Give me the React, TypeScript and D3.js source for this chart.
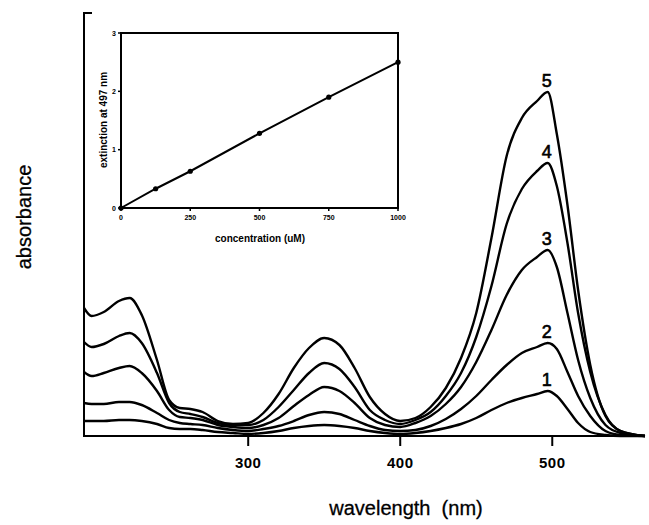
import * as d3 from 'd3'
import { useMemo } from 'react'

// wavelengths (nm) sampled along the spectra
const wavelengths = [
  192, 197, 205, 215, 222, 230, 240, 248, 255, 262, 270, 280, 290, 300, 310, 320,
  330, 340, 350, 360, 370, 380, 390, 400, 410, 420, 430, 440, 450, 460, 470, 480,
  490, 497, 503, 510, 517, 525, 535, 545, 561,
]

// absorbance, curves 1..5
const curve1 = [
  0.15, 0.15, 0.15, 0.16, 0.16, 0.15, 0.12, 0.08, 0.07, 0.07, 0.06, 0.04, 0.03, 0.02, 0.03, 0.05,
  0.08, 0.1, 0.11, 0.1, 0.08, 0.05, 0.03, 0.02, 0.03, 0.05, 0.08, 0.12, 0.18, 0.26, 0.33, 0.38,
  0.42, 0.45, 0.4, 0.27, 0.13, 0.04, 0.01, 0, 0,
]
const curve2 = [
  0.33, 0.32, 0.32, 0.34, 0.34, 0.31, 0.23, 0.16, 0.13, 0.12, 0.11, 0.08, 0.06, 0.05, 0.07, 0.1,
  0.15, 0.21, 0.24, 0.22, 0.16, 0.1, 0.06, 0.05, 0.06, 0.1, 0.17, 0.27, 0.4, 0.56, 0.71, 0.83,
  0.89, 0.93, 0.87, 0.64, 0.4, 0.2, 0.05, 0.01, 0,
]
const curve3 = [
  0.64, 0.6, 0.63, 0.68, 0.7, 0.63, 0.45, 0.26, 0.19, 0.18, 0.16, 0.11, 0.09, 0.08, 0.11, 0.18,
  0.3, 0.41, 0.49, 0.45, 0.33, 0.18, 0.11, 0.09, 0.13, 0.2, 0.32, 0.49, 0.74, 1.06, 1.41, 1.66,
  1.79, 1.86, 1.69, 1.23, 0.76, 0.38, 0.11, 0.03, 0,
]
const curve4 = [
  0.94, 0.89, 0.92, 1.0, 1.03, 0.93, 0.63, 0.33, 0.24, 0.22, 0.19, 0.13, 0.11, 0.11, 0.16, 0.29,
  0.46, 0.63, 0.73, 0.67, 0.49, 0.26, 0.16, 0.12, 0.16, 0.24, 0.4, 0.63, 0.99, 1.5, 2.12, 2.47,
  2.65, 2.73, 2.5, 1.93, 1.23, 0.64, 0.21, 0.05, 0,
]
const curve5 = [
  1.28, 1.2, 1.24, 1.35, 1.38, 1.21, 0.76, 0.36, 0.28, 0.27, 0.24, 0.15, 0.12, 0.13, 0.23, 0.42,
  0.68, 0.88, 0.98, 0.91, 0.68, 0.39, 0.22, 0.15, 0.18, 0.29, 0.48, 0.78, 1.23, 1.98, 2.8, 3.18,
  3.35, 3.44, 3.02, 2.31, 1.46, 0.71, 0.2, 0.05, 0,
]
const curves = [curve1, curve2, curve3, curve4, curve5]
const curveLabels = ['1', '2', '3', '4', '5']
const labelWavelength = 497
const xTicks = [300, 400, 500]

// inset: extinction at 497 nm vs concentration
const concentrations = [0, 125, 250, 500, 750, 1000]
const extinctions = [0, 0.33, 0.63, 1.28, 1.9, 2.5]
const insetXTicks = [0, 250, 500, 750, 1000]
const insetYTicks = [0, 1, 2, 3]

const font = 'Liberation Sans, Arial, Helvetica, sans-serif'

const properties = () => {
  const xScale = d3.scaleLinear().domain([192, 561]).range([84, 645])
  const yScale = d3.scaleLinear().domain([0, 4.22]).range([436, 14])

  const lineGenerator = d3
    .line<number>()
    .x((_, i) => xScale(wavelengths[i]))
    .y((d) => yScale(d))
    .curve(d3.curveMonotoneX)

  const insetX = d3.scaleLinear().domain([0, 1000]).range([121, 398])
  const insetY = d3.scaleLinear().domain([0, 3]).range([208, 33])
  const insetLine = d3
    .line<number>()
    .x((_, i) => insetX(concentrations[i]))
    .y((d) => insetY(d))

  return { xScale, yScale, lineGenerator, insetX, insetY, insetLine }
}

const App = () => {
  const { xScale, yScale, lineGenerator, insetX, insetY, insetLine } = useMemo(
    () => properties(),
    []
  )
  const labelIndex = wavelengths.indexOf(labelWavelength)

  return (
    <svg
      width={649}
      height={525}
      style={{ position: 'absolute', left: 0, top: 0, background: 'white', fontFamily: font }}
    >
      {/* main axes */}
      <path
        d={`M${xScale(192) + 8},${yScale(4.22) - 1}H${xScale(192)}V${yScale(0)}H${xScale(561)}`}
        fill="none"
        stroke="black"
        strokeWidth={2}
      />
      {xTicks.map((t) => (
        <g key={t} transform={`translate(${xScale(t)},${yScale(0)})`}>
          <line y1={0} y2={10} stroke="black" strokeWidth={2} />
          <text
            y={32}
            textAnchor="middle"
            style={{ fontSize: '15px', fontWeight: 'bold', letterSpacing: '0.5px' }}
          >
            {t}
          </text>
        </g>
      ))}

      {curves.map((c, i) => (
        <path key={i} d={lineGenerator(c) ?? ''} fill="none" stroke="black" strokeWidth={2.4} />
      ))}
      {curves.map((c, i) => (
        <text
          key={i}
          x={xScale(labelWavelength) - 1}
          y={yScale(c[labelIndex]) - 5}
          textAnchor="middle"
          style={{ fontSize: '18px' }}
          stroke="black"
          strokeWidth={0.6}
        >
          {curveLabels[i]}
        </text>
      ))}

      <text x={406} y={515} textAnchor="middle" style={{ fontSize: '20px' }} stroke="black" strokeWidth={0.3}>
        wavelength&#160;&#160;(nm)
      </text>
      <text
        transform="translate(31,217) rotate(-90)"
        textAnchor="middle"
        style={{ fontSize: '20px' }}
        stroke="black"
        strokeWidth={0.3}
      >
        absorbance
      </text>

      {/* inset */}
      <rect
        x={insetX(0)}
        y={insetY(3)}
        width={insetX(1000) - insetX(0)}
        height={insetY(0) - insetY(3)}
        fill="white"
        stroke="black"
        strokeWidth={2}
      />
      {insetXTicks.map((t) => (
        <g key={t} transform={`translate(${insetX(t)},${insetY(0)})`}>
          <line y1={0} y2={3} stroke="black" strokeWidth={1.5} />
          <text y={12} textAnchor="middle" style={{ fontSize: '7px', fontWeight: 'bold' }}>
            {t}
          </text>
        </g>
      ))}
      {insetYTicks.map((t) => (
        <g key={t} transform={`translate(${insetX(0)},${insetY(t)})`}>
          <line x1={0} x2={-3} stroke="black" strokeWidth={1.5} />
          <text x={-5} y={2.5} textAnchor="end" style={{ fontSize: '7px', fontWeight: 'bold' }}>
            {t}
          </text>
        </g>
      ))}
      <path d={insetLine(extinctions) ?? ''} fill="none" stroke="black" strokeWidth={2} />
      {extinctions.map((e, i) => (
        <circle key={i} cx={insetX(concentrations[i])} cy={insetY(e)} r={2.6} fill="black" />
      ))}
      <text x={260} y={242} textAnchor="middle" style={{ fontSize: '10px', fontWeight: 'bold' }}>
        concentration (uM)
      </text>
      <text
        transform="translate(107,120) rotate(-90)"
        textAnchor="middle"
        style={{ fontSize: '10px', fontWeight: 'bold' }}
      >
        extinction at 497 nm
      </text>
    </svg>
  )
}

export default App
